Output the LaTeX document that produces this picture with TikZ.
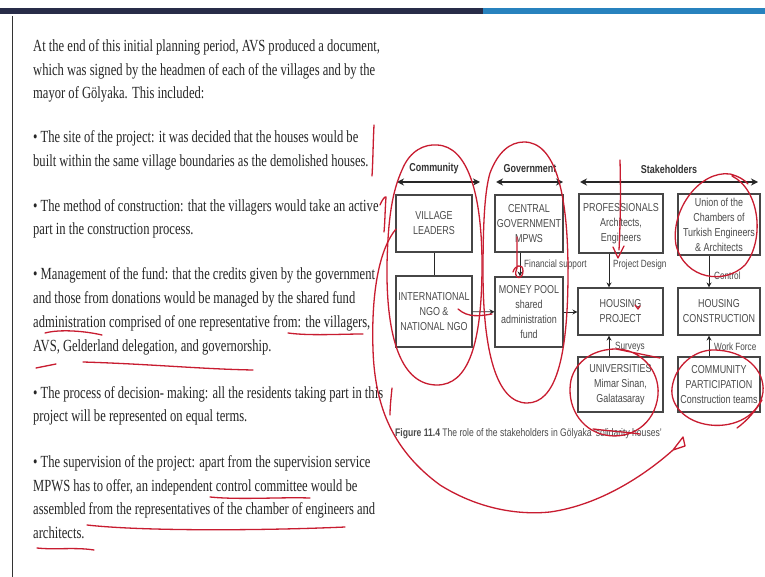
\documentclass[tikz,border=0pt]{standalone}
\usepackage{fontspec}
\newfontfamily\bodyfont{Liberation Serif}[FakeStretch=0.74]
\newfontfamily\diafont{Liberation Sans}[FakeStretch=0.78]
\usetikzlibrary{arrows.meta}
\definecolor{inkred}{RGB}{200,28,48}
\definecolor{navy}{RGB}{40,44,72}
\definecolor{barblue}{RGB}{40,130,190}
\definecolor{boxgray}{RGB}{70,70,70}
\definecolor{txtgray}{RGB}{75,75,75}
\tikzset{
  tl/.style={anchor=base west, inner sep=0pt, font=\bodyfont\fontsize{17}{20}\selectfont, text=black!85},
  box/.style={draw=boxgray, line width=1.1pt, align=center, text=txtgray, inner sep=1pt,
              font=\diafont\fontsize{11.5}{15}\selectfont},
  wh/.style 2 args={minimum width=#1, minimum height=#2},
  hdrlbl/.style={font=\diafont\bfseries\fontsize{11.5}{14}\selectfont, text=black!80, inner sep=1pt},
  hdr/.style={{Stealth[length=7pt,width=7pt]}-{Stealth[length=7pt,width=7pt]}, line width=1.5pt, draw=black!85},
  conn/.style={-{Stealth[length=5pt,width=5pt]}, line width=0.9pt, draw=black!85},
  lbl/.style={anchor=west, font=\diafont\fontsize{10.5}{12}\selectfont, text=txtgray, inner sep=1pt},
  redink/.style={draw=inkred, line width=1.3pt, line cap=round, line join=round}
}
\begin{document}
\begin{tikzpicture}[x=1pt,y=-1pt]
\useasboundingbox (0,0) rectangle (765,577);
\fill[white] (0,0) rectangle (765,577);
% top bar and slide border
\fill[navy] (0,8) rectangle (483,14);
\fill[barblue] (483,8) rectangle (765,14);
\draw[black!80, line width=1pt] (12,16) -- (12,577);

% left text
\node[tl] (t1) at (33,52) {At the end of this initial planning period, AVS produced a document,};
\node[tl] (t2) at (33,76) {which was signed by the headmen of each of the villages and by the};
\node[tl] (t3) at (33,99) {mayor of Gölyaka. This included:};
\node[tl] (t4) at (33,143) {• The site of the project: it was decided that the houses would be};
\node[tl] (t5) at (33,167) {built within the same village boundaries as the demolished houses.};
\node[tl] (t6) at (33,212) {• The method of construction: that the villagers would take an active};
\node[tl] (t7) at (33,235) {part in the construction process.};
\node[tl] (t8) at (33,279) {• Management of the fund: that the credits given by the government};
\node[tl] (t9) at (33,303) {and those from donations would be managed by the shared fund};
\node[tl] (t10) at (33,327) {administration comprised of one representative from: the villagers,};
\node[tl] (t11) at (33,351) {AVS, Gelderland delegation, and governorship.};
\node[tl] (t12) at (33,398) {• The process of decision- making: all the residents taking part in this};
\node[tl] (t13) at (33,421) {project will be represented on equal terms.};
\node[tl] (t14) at (33,467) {• The supervision of the project: apart from the supervision service};
\node[tl] (t15) at (33,491) {MPWS has to offer, an independent control committee would be};
\node[tl] (t16) at (33,514) {assembled from the representatives of the chamber of engineers and};
\node[tl] (t17) at (33,538) {architects.};

% diagram headers
\node[hdrlbl] (hcom) at (434,169) {Community};
\node[hdrlbl] (hgov) at (530,169) {Government};
\node[hdrlbl] (hsta) at (669,169) {Stakeholders};
\coordinate (cL) at (397,182); \coordinate (cR) at (480,182);
\coordinate (gL) at (496,182); \coordinate (gR) at (563,182);
\coordinate (sL) at (580,182); \coordinate (sR) at (758,182);
\draw[hdr] (cL) -- (cR);
\draw[hdr] (gL) -- (gR);
\draw[hdr] (sL) -- (sR);

% boxes
\node[box, wh={76}{57}] (village) at (434,223.5) {VILLAGE\\LEADERS};
\node[box, wh={76}{71}] (intl) at (434,311.5) {INTERNATIONAL\\NGO \&\\NATIONAL NGO};
\node[box, wh={68}{57}] (central) at (529,223.5) {CENTRAL\\GOVERNMENT\\MPWS};
\node[box, wh={68}{70}] (money) at (529,312) {MONEY POOL\\shared\\administration\\fund};
\node[box, wh={84}{59}] (prof) at (621,223.5) {PROFESSIONALS\\Architects,\\Engineers};
\node[box, wh={82}{61}] (union) at (719,224.5) {Union of the\\Chambers of\\Turkish Engineers\\\& Architects};
\node[box, wh={85}{47}] (hproj) at (620.5,311.5) {HOUSING\\PROJECT};
\node[box, wh={82}{47}] (hcons) at (719,311.5) {HOUSING\\CONSTRUCTION};
\node[box, wh={85}{55}] (univ) at (620.5,384.5) {UNIVERSITIES\\Mimar Sinan,\\Galatasaray};
\node[box, wh={82}{55}] (cpart) at (719,384.5) {COMMUNITY\\PARTICIPATION\\Construction teams};

% connectors
\draw[line width=0.9pt, black!85] (village) -- (intl);
\draw[conn] (intl) -- (money);
\draw[conn] (money.east) -- (hproj.west |- money.east);
\draw[conn] ([xshift=-9pt]central.south) -- ([xshift=-9pt]money.north);
\draw[conn] ([xshift=-12pt]prof.south) -- ([xshift=-12pt]prof.south |- hproj.north);
\draw[conn] ([xshift=-10pt]union.south) -- ([xshift=-10pt]union.south |- hcons.north);
\draw[conn] ([xshift=-11.5pt]univ.north) -- ([xshift=-11.5pt]univ.north |- hproj.south);
\draw[conn] ([xshift=-10pt]cpart.north) -- ([xshift=-10pt]cpart.north |- hcons.south);

% connector labels
\node[lbl] (lfin) at (523,265) {Financial support};
\node[lbl] (lpd) at (612,265) {Project Design};
\node[lbl] (lctl) at (713,276) {Control};
\node[lbl] (lsur) at (614,347) {Surveys};
\node[lbl] (lwf) at (713,347) {Work Force};

% caption
\node[anchor=base west, inner sep=0pt, font=\diafont\fontsize{11}{13}\selectfont, text=txtgray] (cap) at (395,436)
  {\textbf{Figure 11.4} The role of the stakeholders in Gölyaka ‘solidarity houses’};

% red ink annotations
\draw[redink] (374,125) .. controls (373,145) and (373,160) .. (372,176);
\draw[redink] (380,205) .. controls (382,200) and (385,196) .. (386,197) .. controls (385,210) and (385,222) .. (384,232);
\draw[redink] (392,388) .. controls (391,398) and (390,407) .. (390,415);
% community oval
\draw[redink] (402,170) .. controls (410,150) and (425,144) .. (437,145) .. controls (468,146) and (482,195) .. (482,265)
  .. controls (482,345) and (468,385) .. (437,385) .. controls (402,385) and (386,340) .. (387,265)
  .. controls (388,215) and (393,190) .. (402,170);
% government oval
\draw[redink] (490,173) .. controls (498,152) and (510,142) .. (524,142) .. controls (556,142) and (568,195) .. (568,272)
  .. controls (568,360) and (555,403) .. (527,403) .. controls (496,403) and (483,350) .. (483,272)
  .. controls (483,220) and (485,190) .. (490,173);
% big curve with hook
\draw[redink] (396,229) .. controls (380,248) and (371,290) .. (373,350) .. controls (375,410) and (395,452) .. (440,485)
  .. controls (480,510) and (520,515) .. (550,512) .. controls (600,505) and (645,475) .. (673,450)
  -- (683,437) -- (685,446) -- (673,450);
% financial support mark
\draw[redink] (517,237) -- (517,268) .. controls (512,279) and (523,281) .. (523,271) .. controls (523,263) and (515,265) .. (513,272);
% professionals mark
\draw[redink] (620,160) .. controls (621,200) and (620,230) .. (619,250);
\draw[redink] (613,247) -- (618,258) -- (624,246);
% money pool arrow mark
\draw[redink] (458,309) .. controls (468,318) and (480,316) .. (492,314);
% housing project tick
\draw[redink] (635,305) -- (638,309) -- (640,306);
% union ellipse
\draw[redink] (732,176) .. controls (760,190) and (765,240) .. (745,265) .. controls (725,285) and (685,280) .. (676,245)
  .. controls (670,210) and (700,170) .. (730,174) .. controls (738,176) and (745,180) .. (748,184);
% universities ellipse
\draw[redink] (616,349) .. controls (640,349) and (660,370) .. (658,395) .. controls (655,425) and (630,440) .. (605,435)
  .. controls (580,430) and (566,405) .. (571,380) .. controls (576,360) and (595,349) .. (616,349) -- (660,358);
% community participation ellipse
\draw[redink] (713,350) .. controls (745,350) and (765,370) .. (763,392) .. controls (760,415) and (735,428) .. (710,425)
  .. controls (685,422) and (670,405) .. (672,388) .. controls (675,365) and (695,350) .. (713,350);
\draw[redink] (737,428) .. controls (748,420) and (756,410) .. (762,400);
% caption strike
\draw[redink] (593,429) .. controls (610,431) and (625,432) .. (640,434);
% underlines
\draw[redink] (45,333) .. controls (60,329) and (85,331) .. (102,335);
\draw[redink] (288,333) .. controls (310,336) and (340,334) .. (363,334);
\draw[redink] (36,368) -- (56,364);
\draw[redink] (83,362) .. controls (150,364) and (200,369) .. (253,370);
\draw[redink] (210,497) .. controls (240,500) and (280,497) .. (310,498);
\draw[redink] (87,525) .. controls (150,532) and (280,530) .. (345,527);
\draw[redink] (37,548) .. controls (55,550) and (75,547) .. (94,550);
\end{tikzpicture}
\end{document}
